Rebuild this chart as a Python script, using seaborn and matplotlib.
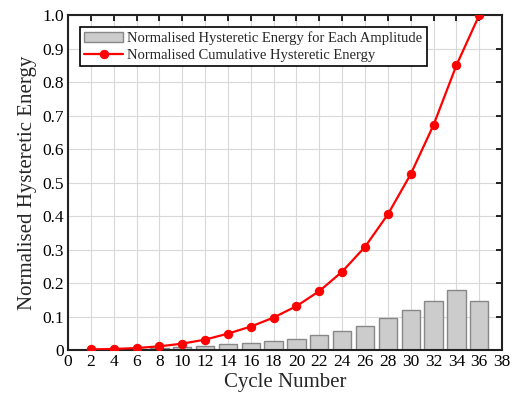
import matplotlib
matplotlib.use("Agg")
import matplotlib.pyplot as plt
import seaborn as sns
import numpy as np

cycles = [2, 4, 6, 8, 10, 12, 14, 16, 18, 20, 22, 24, 26, 28, 30, 32, 34, 36]
energy_each = [0.001, 0.002, 0.003, 0.005, 0.008, 0.012, 0.017, 0.022, 0.028, 0.034,
               0.045, 0.058, 0.073, 0.097, 0.120, 0.147, 0.179, 0.147]
energy_cum = [0.002, 0.003, 0.006, 0.011, 0.019, 0.031, 0.049, 0.070, 0.097, 0.131,
              0.176, 0.234, 0.308, 0.405, 0.525, 0.672, 0.850, 1.000]
xticks = list(range(0, 39, 2))
yticks = [0, 0.1, 0.2, 0.3, 0.4, 0.5, 0.6, 0.7, 0.8, 0.9, 1.0]
ytick_labels = ["0", "0.1", "0.2", "0.3", "0.4", "0.5", "0.6", "0.7", "0.8", "0.9", "1.0"]
bar_label = "Normalised Hysteretic Energy for Each Amplitude"
line_label = "Normalised Cumulative Hysteretic Energy"

sns.set_style("white")
plt.rcParams['font.family'] = ['Liberation Serif', 'DejaVu Serif']

fig = plt.figure(figsize=(5.15, 4.07), dpi=100)
ax = fig.add_axes([0.132, 0.14, 0.843, 0.823])

sns.barplot(x=cycles, y=energy_each, native_scale=True, width=0.8,
            color="#cccccc", edgecolor="#888888", linewidth=1.0, saturation=1,
            label=bar_label, ax=ax, zorder=2)
sns.lineplot(x=cycles, y=energy_cum, color="red", marker="o", markersize=6,
             markeredgecolor="red", linewidth=1.6,
             label=line_label, ax=ax, zorder=3)

ax.set_xlim(0, 38)
ax.set_ylim(0, 1.0)
ax.set_xticks(xticks)
ax.set_xticklabels([str(t) for t in xticks])
ax.set_yticks(yticks)
ax.set_yticklabels(ytick_labels)
ax.grid(True, color="#d9d9d9", linewidth=0.8, zorder=0)
ax.set_axisbelow(True)
ax.tick_params(direction="in", length=4, width=1.2, top=True, right=True,
               labelsize=12.5, colors="black", pad=3)
for s in ax.spines.values():
    s.set_linewidth(1.5)
    s.set_color("#222222")
ax.set_xlabel("Cycle Number", fontsize=15, labelpad=2)
ax.set_ylabel("Normalised Hysteretic Energy", fontsize=15, labelpad=4)

handles, labels = ax.get_legend_handles_labels()
order = [labels.index(bar_label), labels.index(line_label)]
leg = ax.legend([handles[i] for i in order], [labels[i] for i in order],
                loc="upper left", fontsize=10.5, frameon=True, fancybox=False,
                edgecolor="black", framealpha=1, borderpad=0.3, labelspacing=0.25,
                handlelength=2.7, handletextpad=0.25, borderaxespad=0.8)
leg.get_frame().set_linewidth(1.2)

fig.savefig("out.png", dpi=100)
